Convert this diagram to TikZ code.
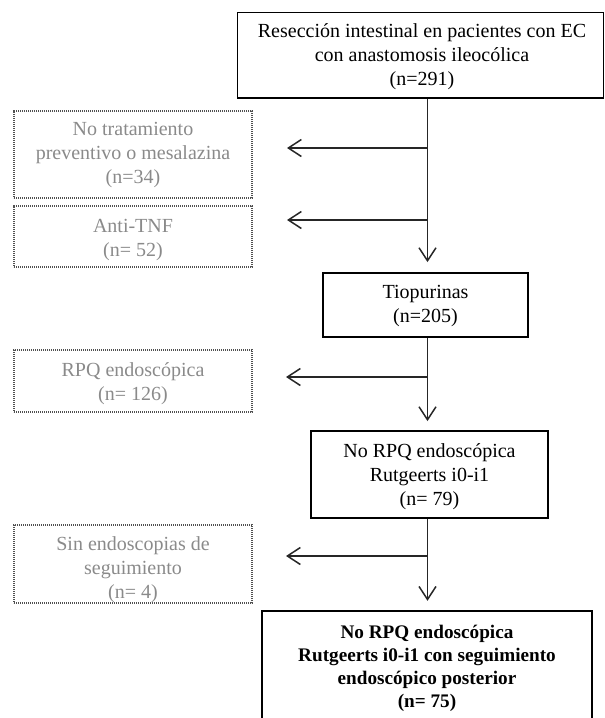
\documentclass[tikz,border=0pt]{standalone}
\usepackage{fontspec}
\setmainfont{Liberation Serif}
\usetikzlibrary{arrows.meta}
\definecolor{gtxt}{HTML}{8A8A8A}
\definecolor{dotc}{HTML}{505050}
\tikzset{
  sbox/.style={draw=black, line width=1.8pt, inner sep=0pt},
  fbox/.style={draw=black, line width=2.4pt, inner sep=0pt},
  dbox/.style={draw=dotc, line width=1.4pt, dash pattern=on 1.1pt off 0.9pt, inner sep=0pt},
  btxt/.style={align=center, font=\fontsize{20}{24}\selectfont, text=black, inner sep=0pt},
  gtext/.style={align=center, font=\fontsize{20}{24}\selectfont, text=gtxt, inner sep=0pt},
  bold/.style={align=center, font=\fontsize{19.2}{23}\selectfont\bfseries, text=black, inner sep=0pt},
  conn/.style={draw=black!85, line width=1.5pt},
  arr/.style={conn, -{Straight Barb[length=13pt,width=17pt,line width=1.5pt]}}
}
\begin{document}
\begin{tikzpicture}[x=1pt,y=-1pt]
\useasboundingbox (0,0) rectangle (605,718);
\clip (0,0) rectangle (605,718);
% boxes
\node[sbox, minimum width=366pt, minimum height=85.5pt] (top) at (420.5,55.25) {};
\node[btxt] (topt) at (422,56.5) {Resección intestinal en pacientes con EC\\con anastomosis ileocólica\\(n=291)};

\node[dbox, minimum width=238pt, minimum height=87pt] (d1) at (133,154.5) {};
\node[gtext] (d1t) at (133,155.5) {No tratamiento\\preventivo o mesalazina\\(n=34)};

\node[dbox, minimum width=238pt, minimum height=61pt] (d2) at (133,236.5) {};
\node[gtext] (d2t) at (133,240.5) {Anti-TNF\\(n= 52)};

\node[sbox, minimum width=205pt, minimum height=64pt] (tio) at (425.5,305) {};
\node[btxt] (tiot) at (425.5,306) {Tiopurinas\\(n=205)};

\node[dbox, minimum width=238pt, minimum height=62pt] (rpq) at (133,381) {};
\node[gtext] (rpqt) at (133,383.5) {RPQ endoscópica\\(n= 126)};

\node[sbox, minimum width=237pt, minimum height=87pt] (nr) at (429.5,474.5) {};
\node[btxt] (nrt) at (429.5,476.5) {No RPQ endoscópica\\Rutgeerts i0-i1\\(n= 79)};

\node[dbox, minimum width=238pt, minimum height=78pt] (sin) at (133,564) {};
\node[gtext] (sint) at (133,569.5) {Sin endoscopias de\\seguimiento\\(n= 4)};

\node[fbox, minimum width=330pt, minimum height=150pt] (fin) at (427,686) {};
\node[bold] (fint) at (427,668) {No RPQ endoscópica\\Rutgeerts i0-i1 con seguimiento\\endoscópico posterior\\(n= 75)};

% coordinates on the main line and arrow ends
\coordinate (c1) at (427.5,148);
\coordinate (a1) at (287,148);
\coordinate (c2) at (427.5,220);
\coordinate (a2) at (287,220);
\coordinate (c3) at (427.5,377);
\coordinate (a3) at (286,377);
\coordinate (c4) at (427.5,556);
\coordinate (a4) at (286,556);

% connectors
\draw[arr, shorten >=10pt] (top.south -| c1) -- (tio.north -| c1);
\draw[arr] (c1) -- (a1);
\draw[arr] (c2) -- (a2);
\draw[arr, shorten >=9pt] (tio.south -| c3) -- (nr.north -| c3);
\draw[arr] (c3) -- (a3);
\draw[arr, shorten >=9pt] (nr.south -| c4) -- (fin.north -| c4);
\draw[arr] (c4) -- (a4);
\end{tikzpicture}
\end{document}
